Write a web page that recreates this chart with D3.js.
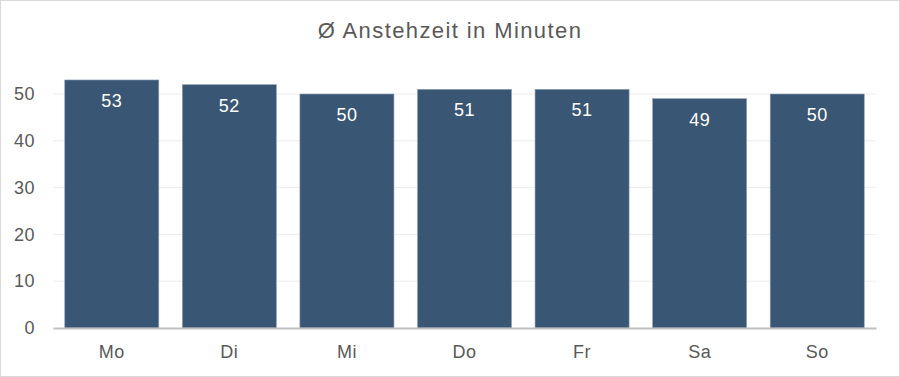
<!DOCTYPE html>
<html lang="en">
<head>
    <meta charset="UTF-8">
    <title>Anstehzeit</title>
    <script src="https://d3js.org/d3.v7.min.js"></script>
    <style>
        body { margin: 0; background: #fff; }
    </style>
</head>
<body>
    <div id="my_dataviz"></div>

    <script>
        // data
        var days = ["Mo", "Di", "Mi", "Do", "Fr", "Sa", "So"];
        var minutes = [53, 52, 50, 51, 51, 49, 50];
        var yTicks = [0, 10, 20, 30, 40, 50];

        var W = 900, H = 377;
        var margin = {top: 49, right: 24, bottom: 49, left: 53};
        var width = W - margin.left - margin.right;
        var height = H - margin.top - margin.bottom;
        var font = "Arial, 'Liberation Sans', sans-serif";

        var root = d3.select("#my_dataviz")
            .append("svg")
            .attr("width", W)
            .attr("height", H)
            .style("font-family", font);

        // outer frame
        root.append("rect")
            .attr("x", 0.5).attr("y", 0.5)
            .attr("width", W - 1).attr("height", H - 1)
            .attr("fill", "#fff")
            .attr("stroke", "#d9d9d9");

        root.append("text")
            .attr("x", W / 2)
            .attr("y", 38)
            .attr("text-anchor", "middle")
            .attr("fill", "#595959")
            .style("font-size", "22px")
            .style("letter-spacing", "1.4px")
            .text("Ø Anstehzeit in Minuten");

        var svg = root.append("g")
            .attr("transform", "translate(" + margin.left + "," + margin.top + ")");

        var x = d3.scaleBand()
            .domain(days)
            .range([0, width])
            .paddingInner(0.2)
            .paddingOuter(0.1);

        var y = d3.scaleLinear()
            .domain([0, 50 * height / 234])
            .range([height, 0]);

        // gridlines
        svg.append("g")
            .selectAll("line")
            .data(yTicks.slice(1))
            .enter().append("line")
                .attr("x1", 0).attr("x2", width)
                .attr("y1", function(d) { return y(d); })
                .attr("y2", function(d) { return y(d); })
                .attr("stroke", "#ececec")
                .attr("stroke-width", 1);

        // y axis
        var yAxis = svg.append("g")
            .call(d3.axisLeft(y).tickValues(yTicks).tickSize(0).tickPadding(18));
        yAxis.select(".domain").remove();
        yAxis.selectAll("text")
            .attr("fill", "#595959")
            .style("font-size", "18px")
            .style("letter-spacing", "0.5px")
            .style("font-family", font);

        // bars
        svg.append("g")
            .selectAll("rect")
            .data(days)
            .enter().append("rect")
                .attr("x", function(d) { return x(d); })
                .attr("y", function(d, i) { return y(minutes[i]); })
                .attr("width", x.bandwidth())
                .attr("height", function(d, i) { return height - y(minutes[i]); })
                .attr("fill", "#3a5675")
                .attr("stroke", "#8ea2b8")
                .attr("stroke-width", 0.6);

        // value labels
        svg.append("g")
            .selectAll("text")
            .data(days)
            .enter().append("text")
                .attr("x", function(d) { return x(d) + x.bandwidth() / 2; })
                .attr("y", function(d, i) { return y(minutes[i]) + 27; })
                .attr("text-anchor", "middle")
                .attr("fill", "#ffffff")
                .style("font-size", "18px")
                .style("letter-spacing", "0.5px")
                .text(function(d, i) { return minutes[i]; });

        // x axis
        var xAxis = svg.append("g")
            .attr("transform", "translate(0," + height + ")")
            .call(d3.axisBottom(x).tickSize(0).tickPadding(17));
        xAxis.select(".domain")
            .attr("stroke", "#bfbfbf")
            .attr("stroke-width", 2);
        xAxis.selectAll("text")
            .attr("fill", "#595959")
            .style("font-size", "18px")
            .style("letter-spacing", "0.5px")
            .style("font-family", font);
    </script>
</body>
</html>
